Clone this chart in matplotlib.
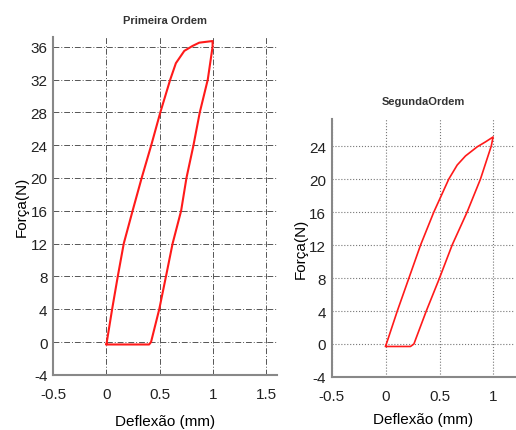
import numpy as np
import matplotlib.pyplot as plt

plt.rcParams['font.family'] = ['Liberation Sans', 'DejaVu Sans']
plt.rcParams['axes.unicode_minus'] = False

# Primeira Ordem: carga, descarga
x1_load = [0.0, 0.053, 0.106, 0.162, 0.245, 0.33, 0.42, 0.505, 0.598, 0.651, 0.73, 0.807, 0.87, 0.995]
y1_load = [-0.25, 4, 8, 12, 16, 20, 24, 28, 32, 34.0, 35.5, 36.1, 36.5, 36.7]
x1_unload = [0.995, 0.995, 0.95, 0.875, 0.816, 0.75, 0.70, 0.62, 0.558, 0.495, 0.418, 0.40, 0.0]
y1_unload = [36.7, 36, 32, 28, 24, 20, 16, 12, 8, 4, 0, -0.3, -0.3]

# Segunda Ordem
x2_load = [0.0, 0.108, 0.216, 0.324, 0.447, 0.586, 0.664, 0.741, 0.849, 0.926, 0.997]
y2_load = [-0.25, 4, 8, 12, 16, 20, 21.7, 22.8, 23.9, 24.5, 25.1]
x2_unload = [0.997, 0.98, 0.88, 0.756, 0.617, 0.5, 0.377, 0.262, 0.23, 0.0]
y2_unload = [25.1, 24, 20, 16, 12, 8, 4, 0, -0.3, -0.3]

fig = plt.figure(figsize=(5.16, 4.31), dpi=100)
ax1 = fig.add_axes([0.103, 0.128, 0.434, 0.784])
ax2 = fig.add_axes([0.643, 0.123, 0.355, 0.599])

ax1.plot(x1_load + x1_unload, y1_load + y1_unload, color='#ff1a1a', lw=1.5)
ax2.plot(x2_load + x2_unload, y2_load + y2_unload, color='#ff1a1a', lw=1.2)

ax1.set_xlim(-0.5, 1.6)
ax1.set_ylim(-4, 37.2)
ax1.set_xticks([-0.5, 0, 0.5, 1, 1.5])
ax1.set_xticklabels(['-0.5', '0', '0.5', '1', '1.5'])
ax1.set_yticks(range(-4, 37, 4))
ax1.grid(True, color='#555555', ls=(0, (6, 2, 1, 2)), lw=0.7)

ax2.set_xlim(-0.5, 1.2)
ax2.set_ylim(-4, 27.3)
ax2.set_xticks([-0.5, 0, 0.5, 1])
ax2.set_xticklabels(['-0.5', '0', '0.5', '1'])
ax2.set_yticks(range(-4, 25, 4))
ax2.grid(True, color='#777777', ls=':', lw=0.8)

for ax in (ax1, ax2):
    for s in ('top', 'right'):
        ax.spines[s].set_visible(False)
    for s in ('left', 'bottom'):
        ax.spines[s].set_color('#888888')
        ax.spines[s].set_linewidth(1.5)
    ax.tick_params(length=0, labelsize=11, colors='#222222')
    ax.tick_params(axis='x', pad=9)
    ax.tick_params(axis='y', pad=4)
    ax.set_ylabel('Força(N)', fontsize=11, labelpad=1)

ax1.set_xlabel('Deflexão (mm)', fontsize=11, labelpad=9)
ax2.set_xlabel('Deflexão (mm)', fontsize=11, labelpad=6)

ax1.set_title('Primeira Ordem', fontsize=8, fontweight='bold', pad=10, color='#333333')
ax2.set_title('SegundaOrdem', fontsize=8, fontweight='bold', pad=11, color='#333333')

fig.savefig('out.png', dpi=100)
